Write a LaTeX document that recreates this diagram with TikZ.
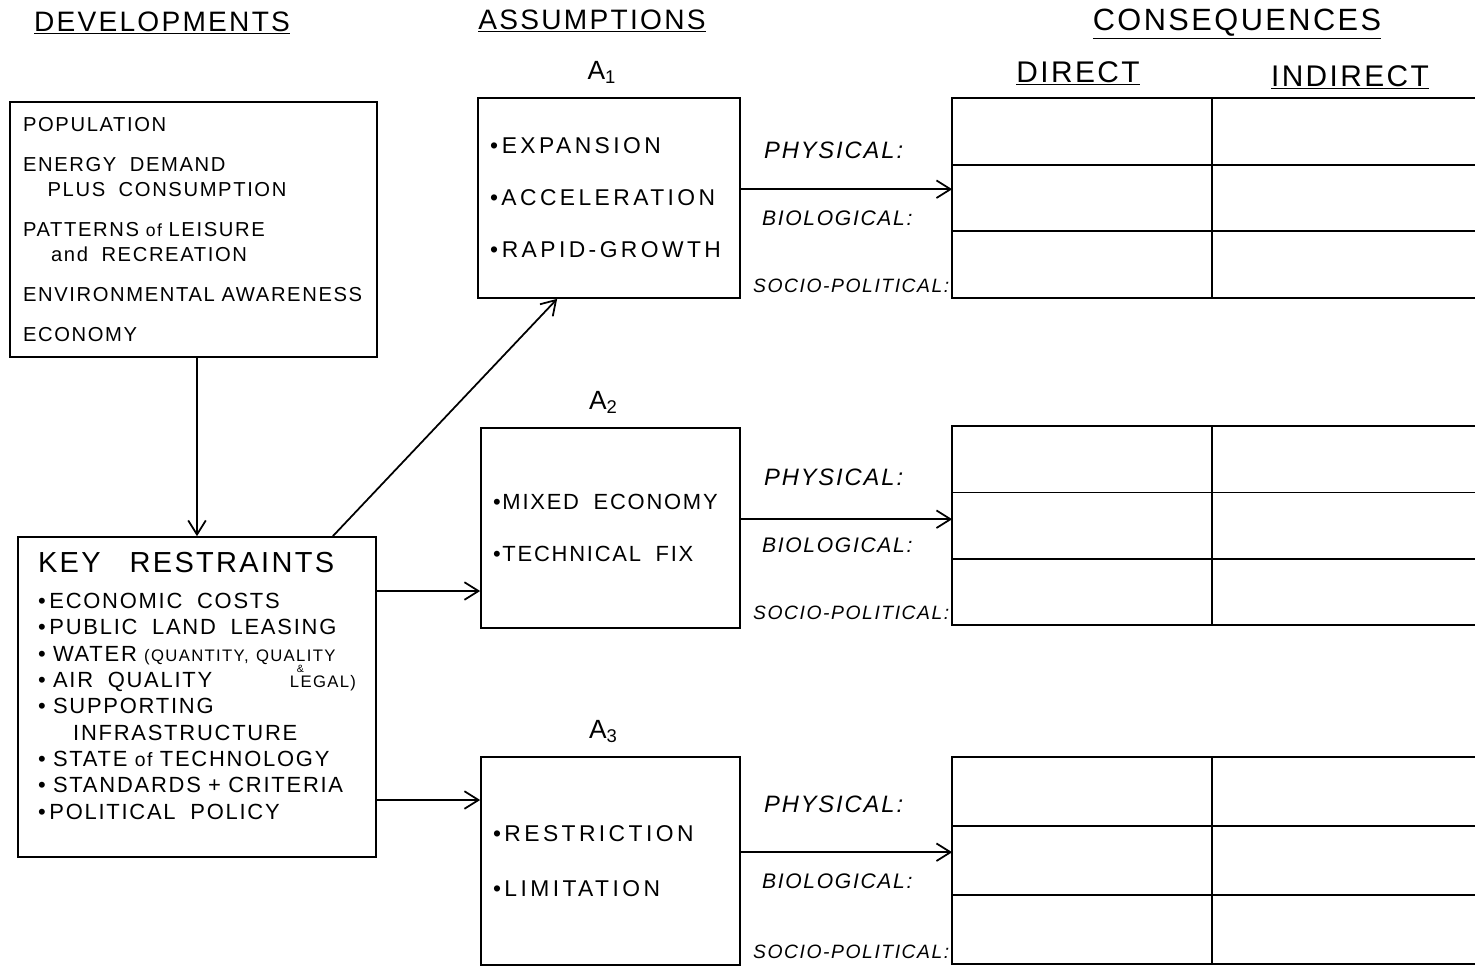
\documentclass[tikz,border=0pt]{standalone}
\usepackage{fontspec}
\setmainfont{Liberation Sans}
\newfontfamily\handfont[LetterSpace=8]{Liberation Sans}
\newfontfamily\handwide[LetterSpace=15]{Liberation Sans}
\usetikzlibrary{positioning,calc,arrows.meta}

\tikzset{
  box/.style={draw, line width=1pt, align=left, inner ysep=0pt},
  heading/.style={font=\handfont\fontsize{16}{18}\selectfont, anchor=base},
  rowlabel/.style={inner sep=0pt, anchor=west}
}

\begin{document}
\begin{tikzpicture}[x=0.02cm, y=-0.02cm, >={Straight Barb[length=8pt,width=10pt]}, line width=1pt]
    \useasboundingbox (0,0) rectangle (1475,968);

    % Headings
    \node [heading] (hdev) at (162,31) {\underline{DEVELOPMENTS}};
    \node [heading] (hass) at (592,29) {\underline{ASSUMPTIONS}};
    \node [heading, font=\handfont\fontsize{17.5}{19}\selectfont] (hcons) at (1237,30) {\underline{CONSEQUENCES}};
    \node [heading, font=\handfont\fontsize{17}{19}\selectfont] (hdir) at (1078,82) {\underline{DIRECT}};
    \node [heading, font=\handfont\fontsize{17}{19}\selectfont] (hind) at (1350,86) {\underline{INDIRECT}};

    % Developments
    \node [box, text width=6.82cm, inner xsep=0.26cm, minimum height=5.1cm,
           font=\handfont\fontsize{11.5}{14.2}\selectfont] (dev) at (193.5,229.5) {
        POPULATION\\[8.6pt]
        ENERGY\ \ DEMAND\\
        \hspace*{14pt}PLUS\ \ CONSUMPTION\\[8.6pt]
        PATTERNS {\fontsize{10}{10}\selectfont of} LEISURE\\
        \hspace*{16pt}and\ \ RECREATION\\[8.6pt]
        \mbox{ENVIRONMENTAL AWARENESS}\\[8.6pt]
        ECONOMY};

    % Key restraints
    \node [box, text width=6.36cm, inner xsep=0.4cm, minimum height=6.4cm,
           font=\handfont\fontsize{12.5}{15}\selectfont] (keys) at (197,697) {
        {\fontsize{16.5}{18}\selectfont KEY\quad RESTRAINTS}\\[5.5pt]
        \textbullet\,ECONOMIC\ \ COSTS\\
        \textbullet\,PUBLIC\ \ LAND\ \ LEASING\\
        \mbox{\textbullet\ WATER {\fontsize{9.5}{10}\selectfont (QUANTITY, QUALITY}}\\
        \textbullet\ AIR\ \ QUALITY\hfill{\fontsize{9.5}{10}\selectfont\rlap{\raisebox{8.5pt}{\kern4pt\fontsize{6}{6}\selectfont\&}}LEGAL)}\\
        \textbullet\ SUPPORTING\\
        \hspace*{20pt}INFRASTRUCTURE\\
        \textbullet\ STATE {\fontsize{11}{10}\selectfont of} TECHNOLOGY\\
        \textbullet\ STANDARDS + CRITERIA\\
        \textbullet\,POLITICAL\ \ POLICY\\[-2pt]\mbox{}};

    % Assumptions
    \node [box, text width=4.76cm, inner xsep=0.24cm, minimum height=4cm,
           font=\handwide\fontsize{13}{29.6}\selectfont] (a1) at (609,198) {
        \textbullet\,EXPANSION\\
        \textbullet ACCELERATION\\
        \textbullet\,RAPID-GROWTH};
    \node [box, text width=4.7cm, inner xsep=0.24cm, minimum height=4cm,
           font=\handfont\fontsize{12.5}{30}\selectfont] (a2) at (610.5,528) {
        \textbullet MIXED\ \ ECONOMY\\
        \textbullet TECHNICAL\ \ FIX};
    \node [box, text width=4.7cm, inner xsep=0.24cm, minimum height=4.16cm,
           font=\handwide\fontsize{13}{31}\selectfont] (a3) at (610.5,861) {
        \textbullet RESTRICTION\\
        \textbullet LIMITATION};

    \node [above=4pt of a1, xshift=-4pt, font=\handfont\fontsize{15}{16}\selectfont] (lab1) {A\textsubscript{1}};
    \node [above=4pt of a2, xshift=-4pt, font=\handfont\fontsize{15}{16}\selectfont] (lab2) {A\textsubscript{2}};
    \node [above=4pt of a3, xshift=-4pt, font=\handfont\fontsize{15}{16}\selectfont] (lab3) {A\textsubscript{3}};

    % Consequence tables
    \foreach \n/\ty/\th/\fp/\fb in {1/198/3.96/0.26/0.6, 2/525.5/3.94/0.26/0.6, 3/860.5/4.1/0.23/0.6} {
        \node [minimum width=10.44cm, minimum height=\th cm, inner sep=0pt] (t\n) at (1214,\ty) {};
        \draw (t\n.north east) -- (t\n.north west) -- (t\n.south west) -- (t\n.south east);
        \draw ($(t\n.north west)!1/3!(t\n.south west)$) -- ($(t\n.north east)!1/3!(t\n.south east)$);
        \draw ($(t\n.north west)!2/3!(t\n.south west)$) -- ($(t\n.north east)!2/3!(t\n.south east)$);
        \draw ($(t\n.north west)!0.496!(t\n.north east)$) -- ($(t\n.south west)!0.496!(t\n.south east)$);
        \node [rowlabel, font=\handfont\itshape\fontsize{13.5}{14}\selectfont] (phys\n)
            at ($(t\n.north west)!\fp!(t\n.south west)+(-189,0)$) {PHYSICAL:};
        \node [rowlabel, font=\handfont\itshape\fontsize{12}{13}\selectfont] (bio\n)
            at ($(t\n.north west)!\fb!(t\n.south west)+(-191,0)$) {BIOLOGICAL:};
        \node [rowlabel, anchor=east, font=\handfont\itshape\fontsize{11}{12}\selectfont] (socio\n)
            at ($(t\n.north west)!0.94!(t\n.south west)+(-2,0)$) {SOCIO-POLITICAL:};
        \draw [->] ([yshift=5pt]a\n.east) -- ([yshift=5pt]a\n.east -| t\n.west);
    }

    % Connections
    \coordinate (in2) at ($(a2.west)+(0,63)$);
    \coordinate (in3) at ($(a3.west)+(0,-61)$);
    \draw [->] (keys.north |- dev.south) -- (keys.north);
    \draw [->] ($(keys.north east)+(-44,0)$) -- ($(a1.south west)+(80,0)$);
    \draw [->] (keys.east |- in2) -- (in2);
    \draw [->] (keys.east |- in3) -- (in3);
\end{tikzpicture}
\end{document}
